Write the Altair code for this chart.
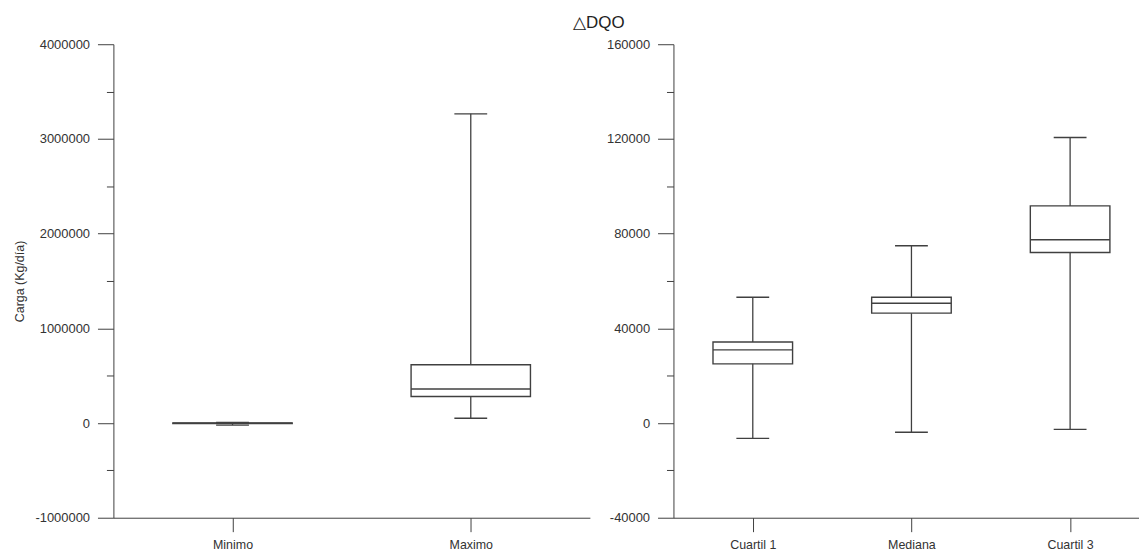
import json

import altair as alt
import pandas as pd

# Left panel: extreme values of the load
left_categories = ["Minimo", "Maximo"]
left_min = [-22000, 50000]
left_q1 = [-6000, 280000]
left_median = [-3000, 360000]
left_q3 = [0, 615000]
left_max = [5000, 3265000]
left_ticks = list(range(-1000000, 4000001, 500000))

# Right panel: quartiles of the load
right_categories = ["Cuartil 1", "Mediana", "Cuartil 3"]
right_min = [-6500, -3900, -2700]
right_q1 = [25000, 46400, 72000]
right_median = [30900, 50600, 77400]
right_q3 = [34200, 53100, 91700]
right_max = [53100, 74900, 120600]
right_ticks = list(range(-40000, 160001, 20000))

FONT = "Liberation Sans"
INK = "#404040"
TEXT = "#333333"


def box_panel(categories, mins, q1s, meds, q3s, maxs, x_max, width, y_ticks,
              major, box_w, cap_w, y_title):
    df = pd.DataFrame({
        "cat": categories,
        "pos": [i + 0.5 for i in range(len(categories))],
        "lo": mins,
        "q1": q1s,
        "mid": meds,
        "q3": q3s,
        "hi": maxs,
    })
    x = alt.X(
        "pos:Q",
        scale=alt.Scale(domain=[0, x_max], nice=False, zero=False),
        axis=alt.Axis(
            values=list(df["pos"]),
            labelExpr=f"{json.dumps(categories)}[floor(datum.value)]",
            title=None, grid=False, tickSize=14, labelPadding=7,
            labelFontSize=12.5, labelColor=TEXT, domainColor=INK,
            tickColor=INK, labelFlush=False,
        ),
    )
    y_axis = alt.Axis(
        values=y_ticks,
        labelExpr=f"datum.value % {major} === 0 ? '' + datum.value : ''",
        tickSize={"condition": {"test": f"datum.value % {major} === 0",
                                "value": 16}, "value": 7},
        grid=False, title=y_title, labelFontSize=13, labelPadding=8,
        labelColor=TEXT, domainColor=INK, tickColor=INK,
        titleFontSize=12.5, titleFontWeight="normal", titleColor=TEXT,
        titlePadding=8,
    )
    y_scale = alt.Scale(domain=[y_ticks[0], y_ticks[-1]], nice=False, zero=False)

    def y(field):
        return alt.Y(f"{field}:Q", scale=y_scale, axis=y_axis)

    base = alt.Chart(df)
    whisker = base.mark_rule(color=INK, strokeWidth=1.3).encode(
        x=x, y=y("lo"), y2="hi:Q")
    box = base.mark_rect(fill="white", stroke=INK, strokeWidth=1.4,
                         xOffset=-box_w / 2, x2Offset=box_w / 2).encode(
        x=x, x2="pos:Q", y=y("q1"), y2="q3:Q")
    median = base.mark_rule(color=INK, strokeWidth=1.4,
                            xOffset=-box_w / 2, x2Offset=box_w / 2).encode(
        x=x, x2="pos:Q", y=y("mid"))
    cap_lo = base.mark_rule(color=INK, strokeWidth=1.4,
                            xOffset=-cap_w / 2, x2Offset=cap_w / 2).encode(
        x=x, x2="pos:Q", y=y("lo"))
    cap_hi = base.mark_rule(color=INK, strokeWidth=1.4,
                            xOffset=-cap_w / 2, x2Offset=cap_w / 2).encode(
        x=x, x2="pos:Q", y=y("hi"))
    return alt.layer(whisker, box, median, cap_lo, cap_hi).properties(
        width=width, height=476)


left = box_panel(left_categories, left_min, left_q1, left_median, left_q3,
                 left_max, 2, 479, left_ticks, 1000000, 120, 33,
                 "Carga (Kg/día)")
right = box_panel(right_categories, right_min, right_q1, right_median,
                  right_q3, right_max, 468 / 159.5, 468, right_ticks, 40000,
                  80, 33, None)

chart = alt.hconcat(left, right, spacing=16).properties(
    title=alt.TitleParams("△DQO", anchor="start", dx=562, fontSize=17,
                          fontWeight="normal", font=FONT, color="#222222",
                          offset=6),
    padding={"left": 14, "top": 13, "right": 0, "bottom": 0},
).configure_view(strokeWidth=0).configure_axis(
    labelFont=FONT, titleFont=FONT)

chart.save("out.html", embed_options={"renderer": "svg", "actions": False})
